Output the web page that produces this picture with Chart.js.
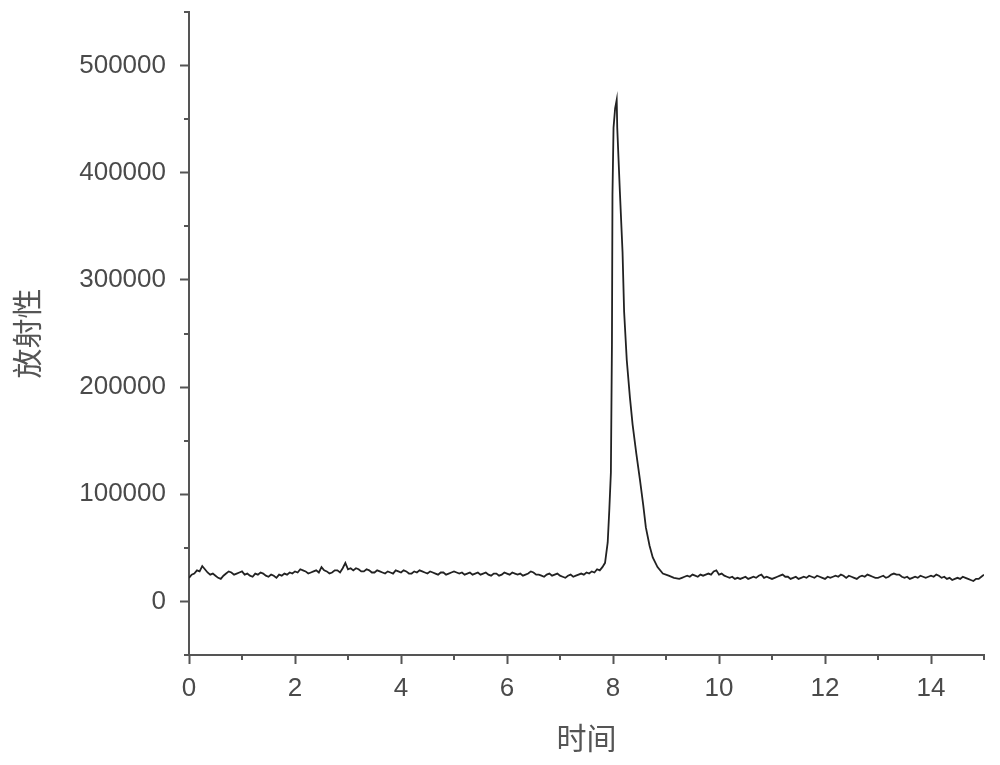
<!DOCTYPE html>
<html>
<head>
<meta charset="utf-8">
<script src="https://cdn.jsdelivr.net/npm/chart.js@4/dist/chart.umd.min.js"></script>
<style>
  html, body { margin: 0; padding: 0; background: #fff; }
  #chart { display: block; }
</style>
</head>
<body>
<canvas id="chart" width="1000" height="765"></canvas>
<script>
// tiempo (x) y radiactividad (y)
const times = [
  0.00, 0.05, 0.10, 0.15, 0.20, 0.25, 0.30, 0.35, 0.40, 0.45, 0.50, 0.55, 0.60, 0.65, 0.70, 0.75, 0.80, 0.85, 0.90, 0.95,
  1.00, 1.05, 1.10, 1.15, 1.20, 1.25, 1.30, 1.35, 1.40, 1.45, 1.50, 1.55, 1.60, 1.65, 1.70, 1.75, 1.80, 1.85, 1.90, 1.95,
  2.00, 2.05, 2.10, 2.15, 2.20, 2.25, 2.30, 2.35, 2.40, 2.45, 2.50, 2.55, 2.60, 2.65, 2.70, 2.75, 2.80, 2.85, 2.90, 2.95,
  3.00, 3.05, 3.10, 3.15, 3.20, 3.25, 3.30, 3.35, 3.40, 3.45, 3.50, 3.55, 3.60, 3.65, 3.70, 3.75, 3.80, 3.85, 3.90, 3.95,
  4.00, 4.05, 4.10, 4.15, 4.20, 4.25, 4.30, 4.35, 4.40, 4.45, 4.50, 4.55, 4.60, 4.65, 4.70, 4.75, 4.80, 4.85, 4.90, 4.95,
  5.00, 5.05, 5.10, 5.15, 5.20, 5.25, 5.30, 5.35, 5.40, 5.45, 5.50, 5.55, 5.60, 5.65, 5.70, 5.75, 5.80, 5.85, 5.90, 5.95,
  6.00, 6.05, 6.10, 6.15, 6.20, 6.25, 6.30, 6.35, 6.40, 6.45, 6.50, 6.55, 6.60, 6.65, 6.70, 6.75, 6.80, 6.85, 6.90, 6.95,
  7.00, 7.05, 7.10, 7.15, 7.20, 7.25, 7.30, 7.35, 7.40, 7.45, 7.50, 7.55, 7.60, 7.65, 7.70, 7.75,
  7.80, 7.85, 7.90, 7.93, 7.96, 7.98, 7.99, 8.01, 8.04, 8.07,
  8.08, 8.13, 8.18, 8.21, 8.26, 8.32, 8.37, 8.44, 8.51, 8.57,
  8.62, 8.69, 8.75, 8.84, 8.94, 9.05, 9.15, 9.25,
  9.30, 9.35, 9.40, 9.45, 9.50, 9.55, 9.60, 9.65, 9.70, 9.75, 9.80, 9.85, 9.90, 9.95,
  10.00, 10.05, 10.10, 10.15, 10.20, 10.25, 10.30, 10.35, 10.40, 10.45, 10.50, 10.55, 10.60, 10.65, 10.70, 10.75, 10.80, 10.85, 10.90, 10.95,
  11.00, 11.05, 11.10, 11.15, 11.20, 11.25, 11.30, 11.35, 11.40, 11.45, 11.50, 11.55, 11.60, 11.65, 11.70, 11.75, 11.80, 11.85, 11.90, 11.95,
  12.00, 12.05, 12.10, 12.15, 12.20, 12.25, 12.30, 12.35, 12.40, 12.45, 12.50, 12.55, 12.60, 12.65, 12.70, 12.75, 12.80, 12.85, 12.90, 12.95,
  13.00, 13.05, 13.10, 13.15, 13.20, 13.25, 13.30, 13.35, 13.40, 13.45, 13.50, 13.55, 13.60, 13.65, 13.70, 13.75, 13.80, 13.85, 13.90, 13.95,
  14.00, 14.05, 14.10, 14.15, 14.20, 14.25, 14.30, 14.35, 14.40, 14.45, 14.50, 14.55, 14.60, 14.65, 14.70, 14.75, 14.80, 14.85, 14.90, 14.95, 15.00
];

const counts = [
  22000, 25000, 26000, 29000, 28000, 33000, 30000, 27000, 25000, 26000, 24000, 22000, 21000, 24000, 26000, 28000, 27000, 25000, 26000, 27000,
  28000, 25000, 26000, 24000, 23000, 26000, 25000, 27000, 26000, 24000, 23000, 25000, 24000, 22000, 25000, 24000, 26000, 25000, 27000, 26000,
  28000, 27000, 30000, 29000, 28000, 26000, 27000, 28000, 29000, 27000, 32000, 29000, 28000, 26000, 27000, 29000, 29000, 27000, 31000, 36000,
  30000, 31000, 29000, 31000, 30000, 28000, 28000, 30000, 29000, 27000, 27000, 29000, 28000, 27000, 26000, 28000, 27000, 26000, 29000, 28000,
  27000, 29000, 28000, 26000, 26000, 28000, 27000, 29000, 28000, 27000, 26000, 28000, 27000, 26000, 25000, 27000, 27000, 25000, 26000, 27000,
  28000, 27000, 26000, 27000, 25000, 26000, 27000, 25000, 26000, 27000, 25000, 26000, 27000, 25000, 24000, 26000, 26000, 24000, 25000, 27000,
  26000, 25000, 27000, 26000, 25000, 26000, 24000, 25000, 26000, 28000, 27000, 25000, 25000, 24000, 23000, 25000, 26000, 24000, 25000, 26000,
  24000, 23000, 22000, 24000, 25000, 23000, 24000, 25000, 26000, 25000, 27000, 26000, 28000, 27000, 30000, 29000,
  32000, 36000, 55000, 85000, 120000, 240000, 380000, 442000, 460000, 468000,
  442000, 382000, 326000, 270000, 225000, 190000, 165000, 138000, 113000, 90000,
  69000, 52000, 41000, 32000, 26000, 24000, 22000, 21000,
  22000, 23000, 24000, 23000, 25000, 24000, 23000, 25000, 24000, 25000, 26000, 25000, 28000, 29000,
  25000, 26000, 24000, 23000, 22000, 23000, 21000, 22000, 21000, 22000, 23000, 21000, 22000, 23000, 22000, 24000, 25000, 22000, 23000, 22000,
  21000, 22000, 23000, 24000, 25000, 23000, 23000, 21000, 22000, 23000, 21000, 22000, 23000, 22000, 24000, 23000, 22000, 24000, 23000, 22000,
  21000, 23000, 22000, 23000, 24000, 23000, 25000, 24000, 22000, 24000, 23000, 22000, 21000, 23000, 24000, 23000, 25000, 24000, 23000, 22000,
  22000, 23000, 24000, 22000, 23000, 25000, 26000, 25000, 25000, 23000, 22000, 23000, 21000, 22000, 23000, 22000, 24000, 23000, 22000, 23000,
  24000, 23000, 25000, 24000, 22000, 23000, 21000, 22000, 20000, 21000, 22000, 21000, 23000, 22000, 21000, 20000, 19000, 21000, 21000, 23000, 25000
];

const xTickValues = [0, 2, 4, 6, 8, 10, 12, 14];
const xMinorValues = [1, 3, 5, 7, 9, 11, 13, 15];
const yTickValues = [0, 100000, 200000, 300000, 400000, 500000];
const yMinorValues = [-50000, 50000, 150000, 250000, 350000, 450000, 550000];

const axisColor = '#555555';
const labelColor = '#4a4a4a';

// marcas menores (más cortas) en los ejes
const minorTicks = {
  id: 'minorTicks',
  afterDraw(chart) {
    const ctx = chart.ctx;
    const xs = chart.scales.x;
    const ys = chart.scales.y;
    const area = chart.chartArea;
    ctx.save();
    ctx.strokeStyle = axisColor;
    ctx.lineWidth = 2;
    ctx.beginPath();
    xMinorValues.forEach(v => {
      const px = Math.round(xs.getPixelForValue(v));
      ctx.moveTo(px, area.bottom);
      ctx.lineTo(px, area.bottom + 5);
    });
    yMinorValues.forEach(v => {
      const py = Math.round(ys.getPixelForValue(v));
      ctx.moveTo(area.left, py);
      ctx.lineTo(area.left - 5, py);
    });
    ctx.stroke();
    ctx.restore();
  }
};

const ctx = document.getElementById('chart').getContext('2d');

new Chart(ctx, {
  type: 'line',
  data: {
    datasets: [{
      data: times.map((t, i) => ({ x: t, y: counts[i] })),
      borderColor: '#222222',
      borderWidth: 1.8,
      pointRadius: 0,
      tension: 0,
      fill: false
    }]
  },
  options: {
    responsive: false,
    animation: false,
    devicePixelRatio: 1,
    layout: { padding: { top: 12, right: 16, left: 0, bottom: 0 } },
    plugins: {
      legend: { display: false },
      tooltip: { enabled: false }
    },
    scales: {
      x: {
        type: 'linear',
        position: 'bottom',
        min: 0,
        max: 15,
        afterBuildTicks: scale => { scale.ticks = xTickValues.map(v => ({ value: v })); },
        afterFit: scale => {
          scale.height = 110;
          scale.paddingLeft = 0;
          scale.paddingRight = 0;
        },
        border: { color: axisColor, width: 2 },
        grid: { drawOnChartArea: false, drawTicks: true, tickLength: 9, tickColor: axisColor, tickWidth: 2 },
        ticks: {
          color: labelColor,
          font: { family: 'Liberation Sans', size: 26 },
          padding: 9,
          maxRotation: 0
        },
        title: {
          display: true,
          text: '时间',
          color: '#555555',
          font: { family: 'Noto Sans CJK SC', size: 30 },
          padding: { top: 0, bottom: 9 }
        }
      },
      y: {
        type: 'linear',
        min: -50000,
        max: 550000,
        afterBuildTicks: scale => { scale.ticks = yTickValues.map(v => ({ value: v })); },
        afterFit: scale => {
          scale.width = 189;
          scale.paddingTop = 0;
          scale.paddingBottom = 0;
        },
        border: { color: axisColor, width: 2 },
        grid: { drawOnChartArea: false, drawTicks: true, tickLength: 9, tickColor: axisColor, tickWidth: 2 },
        ticks: {
          color: labelColor,
          font: { family: 'Liberation Sans', size: 26 },
          padding: 14,
          callback: v => String(v)
        },
        title: {
          display: true,
          text: '放射性',
          color: '#555555',
          font: { family: 'Noto Sans CJK SC', size: 30 },
          padding: { top: 9, bottom: 0 }
        }
      }
    }
  },
  plugins: [minorTicks]
});
</script>
</body>
</html>
